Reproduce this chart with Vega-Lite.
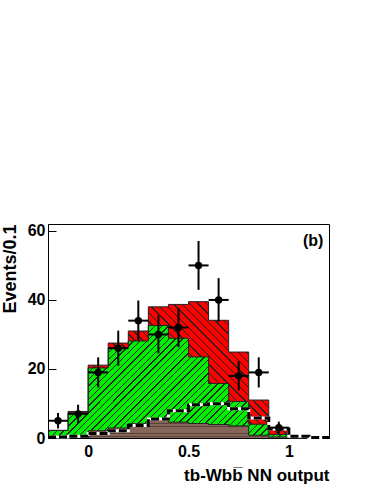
{
  "$schema": "https://vega.github.io/schema/vega-lite/v6.json",
  "autosize": {"type": "none"},
  "padding": {"left": 48, "top": 224, "right": 45, "bottom": 46},
  "width": 281,
  "height": 214,
  "background": "white",
  "config": {
    "view": {"stroke": "black", "strokeWidth": 1},
    "font": "Liberation Sans",
    "axis": {"labelFont": "Liberation Sans", "titleFont": "Liberation Sans", "labelFontWeight": "bold", "titleFontWeight": "bold", "labelColor": "black", "titleColor": "black", "domainColor": "black"}
  },
  "datasets": {
    "hist": [
      {"lo": -0.2, "hi": -0.1, "brown": 0.2, "green": 2.2, "total": 2.2, "signal": 0.3},
      {"lo": -0.1, "hi": 0.0, "brown": 0.5, "green": 7.3, "total": 7.7, "signal": 0.5},
      {"lo": 0.0, "hi": 0.1, "brown": 2.1, "green": 20.3, "total": 21.1, "signal": 1.3},
      {"lo": 0.1, "hi": 0.2, "brown": 2.9, "green": 26.1, "total": 27.5, "signal": 2.1},
      {"lo": 0.2, "hi": 0.3, "brown": 4.1, "green": 28.1, "total": 31.0, "signal": 3.6},
      {"lo": 0.3, "hi": 0.4, "brown": 5.3, "green": 32.6, "total": 38.0, "signal": 5.5},
      {"lo": 0.4, "hi": 0.5, "brown": 4.6, "green": 28.9, "total": 38.7, "signal": 7.9},
      {"lo": 0.5, "hi": 0.6, "brown": 4.2, "green": 23.5, "total": 39.5, "signal": 9.6},
      {"lo": 0.6, "hi": 0.7, "brown": 3.9, "green": 15.8, "total": 34.1, "signal": 9.9},
      {"lo": 0.7, "hi": 0.8, "brown": 3.5, "green": 10.6, "total": 24.9, "signal": 8.5},
      {"lo": 0.8, "hi": 0.9, "brown": 0.8, "green": 4.0, "total": 11.0, "signal": 5.8},
      {"lo": 0.9, "hi": 1.0, "brown": 0.3, "green": 1.0, "total": 3.0, "signal": 2.6},
      {"lo": 1.0, "hi": 1.1, "brown": 0, "green": 0, "total": 0, "signal": 0.5},
      {"lo": 1.1, "hi": 1.2, "brown": 0, "green": 0, "total": 0, "signal": 0.15},
      {"lo": 1.2, "hi": 1.2, "brown": 0, "green": 0, "total": 0, "signal": 0.15}
    ],
    "pts": [
      {"x": -0.15, "xlo": -0.2, "xhi": -0.1, "y": 5, "ylo": 2.76, "yhi": 7.24},
      {"x": -0.05, "xlo": -0.1, "xhi": 0.0, "y": 7, "ylo": 4.35, "yhi": 9.65},
      {"x": 0.05, "xlo": 0.0, "xhi": 0.1, "y": 19, "ylo": 14.64, "yhi": 23.36},
      {"x": 0.15, "xlo": 0.1, "xhi": 0.2, "y": 26, "ylo": 20.9, "yhi": 31.1},
      {"x": 0.25, "xlo": 0.2, "xhi": 0.3, "y": 34, "ylo": 28.17, "yhi": 39.83},
      {"x": 0.35, "xlo": 0.3, "xhi": 0.4, "y": 30, "ylo": 24.52, "yhi": 35.48},
      {"x": 0.45, "xlo": 0.4, "xhi": 0.5, "y": 32, "ylo": 26.34, "yhi": 37.66},
      {"x": 0.55, "xlo": 0.5, "xhi": 0.6, "y": 50, "ylo": 42.93, "yhi": 57.07},
      {"x": 0.65, "xlo": 0.6, "xhi": 0.7, "y": 40, "ylo": 33.68, "yhi": 46.32},
      {"x": 0.75, "xlo": 0.7, "xhi": 0.8, "y": 18, "ylo": 13.76, "yhi": 22.24},
      {"x": 0.85, "xlo": 0.8, "xhi": 0.9, "y": 19, "ylo": 14.64, "yhi": 23.36},
      {"x": 0.95, "xlo": 0.9, "xhi": 1.0, "y": 3, "ylo": 1.27, "yhi": 4.73}
    ],
    "label": [{"x": 1.172, "y": 57, "text": "(b)"}]
  },
  "layer": [
    {
      "data": {"name": "hist"},
      "mark": {"type": "area", "interpolate": "step-after", "fill": {"gradient": "linear", "x1": 0, "y1": 1, "x2": 1.202, "y2": 0.417, "stops": [
        {"offset": 0, "color": "#222"}, {"offset": 0.0035, "color": "#222"}, {"offset": 0.0035, "color": "#f00"}, {"offset": 0.02, "color": "#f00"},
        {"offset": 0.02, "color": "#222"}, {"offset": 0.0235, "color": "#222"}, {"offset": 0.0235, "color": "#f00"}, {"offset": 0.04, "color": "#f00"},
        {"offset": 0.04, "color": "#222"}, {"offset": 0.0435, "color": "#222"}, {"offset": 0.0435, "color": "#f00"}, {"offset": 0.06, "color": "#f00"},
        {"offset": 0.06, "color": "#222"}, {"offset": 0.0635, "color": "#222"}, {"offset": 0.0635, "color": "#f00"}, {"offset": 0.08, "color": "#f00"},
        {"offset": 0.08, "color": "#222"}, {"offset": 0.0835, "color": "#222"}, {"offset": 0.0835, "color": "#f00"}, {"offset": 0.1, "color": "#f00"},
        {"offset": 0.1, "color": "#222"}, {"offset": 0.1035, "color": "#222"}, {"offset": 0.1035, "color": "#f00"}, {"offset": 0.12, "color": "#f00"},
        {"offset": 0.12, "color": "#222"}, {"offset": 0.1235, "color": "#222"}, {"offset": 0.1235, "color": "#f00"}, {"offset": 0.14, "color": "#f00"},
        {"offset": 0.14, "color": "#222"}, {"offset": 0.1435, "color": "#222"}, {"offset": 0.1435, "color": "#f00"}, {"offset": 0.16, "color": "#f00"},
        {"offset": 0.16, "color": "#222"}, {"offset": 0.1635, "color": "#222"}, {"offset": 0.1635, "color": "#f00"}, {"offset": 0.18, "color": "#f00"},
        {"offset": 0.18, "color": "#222"}, {"offset": 0.1835, "color": "#222"}, {"offset": 0.1835, "color": "#f00"}, {"offset": 0.2, "color": "#f00"},
        {"offset": 0.2, "color": "#222"}, {"offset": 0.2035, "color": "#222"}, {"offset": 0.2035, "color": "#f00"}, {"offset": 0.22, "color": "#f00"},
        {"offset": 0.22, "color": "#222"}, {"offset": 0.2235, "color": "#222"}, {"offset": 0.2235, "color": "#f00"}, {"offset": 0.24, "color": "#f00"},
        {"offset": 0.24, "color": "#222"}, {"offset": 0.2435, "color": "#222"}, {"offset": 0.2435, "color": "#f00"}, {"offset": 0.26, "color": "#f00"},
        {"offset": 0.26, "color": "#222"}, {"offset": 0.2635, "color": "#222"}, {"offset": 0.2635, "color": "#f00"}, {"offset": 0.28, "color": "#f00"},
        {"offset": 0.28, "color": "#222"}, {"offset": 0.2835, "color": "#222"}, {"offset": 0.2835, "color": "#f00"}, {"offset": 0.3, "color": "#f00"},
        {"offset": 0.3, "color": "#222"}, {"offset": 0.3035, "color": "#222"}, {"offset": 0.3035, "color": "#f00"}, {"offset": 0.32, "color": "#f00"},
        {"offset": 0.32, "color": "#222"}, {"offset": 0.3235, "color": "#222"}, {"offset": 0.3235, "color": "#f00"}, {"offset": 0.34, "color": "#f00"},
        {"offset": 0.34, "color": "#222"}, {"offset": 0.3435, "color": "#222"}, {"offset": 0.3435, "color": "#f00"}, {"offset": 0.36, "color": "#f00"},
        {"offset": 0.36, "color": "#222"}, {"offset": 0.3635, "color": "#222"}, {"offset": 0.3635, "color": "#f00"}, {"offset": 0.38, "color": "#f00"},
        {"offset": 0.38, "color": "#222"}, {"offset": 0.3835, "color": "#222"}, {"offset": 0.3835, "color": "#f00"}, {"offset": 0.4, "color": "#f00"},
        {"offset": 0.4, "color": "#222"}, {"offset": 0.4035, "color": "#222"}, {"offset": 0.4035, "color": "#f00"}, {"offset": 0.42, "color": "#f00"},
        {"offset": 0.42, "color": "#222"}, {"offset": 0.4235, "color": "#222"}, {"offset": 0.4235, "color": "#f00"}, {"offset": 0.44, "color": "#f00"},
        {"offset": 0.44, "color": "#222"}, {"offset": 0.4435, "color": "#222"}, {"offset": 0.4435, "color": "#f00"}, {"offset": 0.46, "color": "#f00"},
        {"offset": 0.46, "color": "#222"}, {"offset": 0.4635, "color": "#222"}, {"offset": 0.4635, "color": "#f00"}, {"offset": 0.48, "color": "#f00"},
        {"offset": 0.48, "color": "#222"}, {"offset": 0.4835, "color": "#222"}, {"offset": 0.4835, "color": "#f00"}, {"offset": 0.5, "color": "#f00"},
        {"offset": 0.5, "color": "#222"}, {"offset": 0.5035, "color": "#222"}, {"offset": 0.5035, "color": "#f00"}, {"offset": 0.52, "color": "#f00"},
        {"offset": 0.52, "color": "#222"}, {"offset": 0.5235, "color": "#222"}, {"offset": 0.5235, "color": "#f00"}, {"offset": 0.54, "color": "#f00"},
        {"offset": 0.54, "color": "#222"}, {"offset": 0.5435, "color": "#222"}, {"offset": 0.5435, "color": "#f00"}, {"offset": 0.56, "color": "#f00"},
        {"offset": 0.56, "color": "#222"}, {"offset": 0.5635, "color": "#222"}, {"offset": 0.5635, "color": "#f00"}, {"offset": 0.58, "color": "#f00"},
        {"offset": 0.58, "color": "#222"}, {"offset": 0.5835, "color": "#222"}, {"offset": 0.5835, "color": "#f00"}, {"offset": 0.6, "color": "#f00"},
        {"offset": 0.6, "color": "#222"}, {"offset": 0.6035, "color": "#222"}, {"offset": 0.6035, "color": "#f00"}, {"offset": 0.62, "color": "#f00"},
        {"offset": 0.62, "color": "#222"}, {"offset": 0.6235, "color": "#222"}, {"offset": 0.6235, "color": "#f00"}, {"offset": 0.64, "color": "#f00"},
        {"offset": 0.64, "color": "#222"}, {"offset": 0.6435, "color": "#222"}, {"offset": 0.6435, "color": "#f00"}, {"offset": 0.66, "color": "#f00"},
        {"offset": 0.66, "color": "#222"}, {"offset": 0.6635, "color": "#222"}, {"offset": 0.6635, "color": "#f00"}, {"offset": 0.68, "color": "#f00"},
        {"offset": 0.68, "color": "#222"}, {"offset": 0.6835, "color": "#222"}, {"offset": 0.6835, "color": "#f00"}, {"offset": 0.7, "color": "#f00"},
        {"offset": 0.7, "color": "#222"}, {"offset": 0.7035, "color": "#222"}, {"offset": 0.7035, "color": "#f00"}, {"offset": 0.72, "color": "#f00"},
        {"offset": 0.72, "color": "#222"}, {"offset": 0.7235, "color": "#222"}, {"offset": 0.7235, "color": "#f00"}, {"offset": 0.74, "color": "#f00"},
        {"offset": 0.74, "color": "#222"}, {"offset": 0.7435, "color": "#222"}, {"offset": 0.7435, "color": "#f00"}, {"offset": 0.76, "color": "#f00"},
        {"offset": 0.76, "color": "#222"}, {"offset": 0.7635, "color": "#222"}, {"offset": 0.7635, "color": "#f00"}, {"offset": 0.78, "color": "#f00"},
        {"offset": 0.78, "color": "#222"}, {"offset": 0.7835, "color": "#222"}, {"offset": 0.7835, "color": "#f00"}, {"offset": 0.8, "color": "#f00"},
        {"offset": 0.8, "color": "#222"}, {"offset": 0.8035, "color": "#222"}, {"offset": 0.8035, "color": "#f00"}, {"offset": 0.82, "color": "#f00"},
        {"offset": 0.82, "color": "#222"}, {"offset": 0.8235, "color": "#222"}, {"offset": 0.8235, "color": "#f00"}, {"offset": 0.84, "color": "#f00"},
        {"offset": 0.84, "color": "#222"}, {"offset": 0.8435, "color": "#222"}, {"offset": 0.8435, "color": "#f00"}, {"offset": 0.86, "color": "#f00"},
        {"offset": 0.86, "color": "#222"}, {"offset": 0.8635, "color": "#222"}, {"offset": 0.8635, "color": "#f00"}, {"offset": 0.88, "color": "#f00"},
        {"offset": 0.88, "color": "#222"}, {"offset": 0.8835, "color": "#222"}, {"offset": 0.8835, "color": "#f00"}, {"offset": 0.9, "color": "#f00"},
        {"offset": 0.9, "color": "#222"}, {"offset": 0.9035, "color": "#222"}, {"offset": 0.9035, "color": "#f00"}, {"offset": 0.92, "color": "#f00"},
        {"offset": 0.92, "color": "#222"}, {"offset": 0.9235, "color": "#222"}, {"offset": 0.9235, "color": "#f00"}, {"offset": 0.94, "color": "#f00"},
        {"offset": 0.94, "color": "#222"}, {"offset": 0.9435, "color": "#222"}, {"offset": 0.9435, "color": "#f00"}, {"offset": 0.96, "color": "#f00"},
        {"offset": 0.96, "color": "#222"}, {"offset": 0.9635, "color": "#222"}, {"offset": 0.9635, "color": "#f00"}, {"offset": 0.98, "color": "#f00"},
        {"offset": 0.98, "color": "#222"}, {"offset": 0.9835, "color": "#222"}, {"offset": 0.9835, "color": "#f00"}, {"offset": 1, "color": "#f00"}
      ]}},
      "encoding": {
        "x": {"field": "lo", "type": "quantitative", "scale": {"domain": [-0.2, 1.2], "nice": false, "zero": false},
          "axis": {"values": [0, 0.5, 1], "labelExpr": "toString(datum.value)", "ticks": false, "grid": false, "labelFontSize": 16, "labelPadding": 5, "title": "tb-Wbb\u0305 NN output", "titleFontSize": 17, "titleAnchor": "end", "titlePadding": 8, "labelFlush": false}},
        "y": {"field": "total", "type": "quantitative", "scale": {"domain": [0, 62], "nice": false},
          "axis": {"values": [0, 5, 10, 15, 20, 25, 30, 35, 40, 45, 50, 55, 60], "labelExpr": "datum.value % 20 === 0 ? datum.label : ''", "labelOverlap": false, "labelFlush": false, "ticks": false, "labelFontSize": 16, "labelPadding": 3, "grid": true, "gridColor": "black", "gridOpacity": 1, "gridWidth": 1, "gridDash": {"condition": {"test": "datum.value % 20 === 0", "value": [8, 1000]}, "value": [4, 1000]}, "zindex": 1, "title": "Events/0.1", "titleFontSize": 18, "titleAnchor": "end", "titlePadding": 8}},
        "y2": {"datum": 0}
      }
    },
    {
      "data": {"name": "hist"},
      "mark": {"type": "area", "interpolate": "step-after", "fill": {"gradient": "linear", "x1": 0, "y1": 0, "x2": 1.207, "y2": 0.483, "stops": [
        {"offset": 0, "color": "#222"}, {"offset": 0.0035, "color": "#222"}, {"offset": 0.0035, "color": "#0e0"}, {"offset": 0.017, "color": "#0e0"},
        {"offset": 0.017, "color": "#222"}, {"offset": 0.0205, "color": "#222"}, {"offset": 0.0205, "color": "#0e0"}, {"offset": 0.034, "color": "#0e0"},
        {"offset": 0.034, "color": "#222"}, {"offset": 0.0375, "color": "#222"}, {"offset": 0.0375, "color": "#0e0"}, {"offset": 0.051, "color": "#0e0"},
        {"offset": 0.051, "color": "#222"}, {"offset": 0.0545, "color": "#222"}, {"offset": 0.0545, "color": "#0e0"}, {"offset": 0.068, "color": "#0e0"},
        {"offset": 0.068, "color": "#222"}, {"offset": 0.0715, "color": "#222"}, {"offset": 0.0715, "color": "#0e0"}, {"offset": 0.085, "color": "#0e0"},
        {"offset": 0.085, "color": "#222"}, {"offset": 0.0885, "color": "#222"}, {"offset": 0.0885, "color": "#0e0"}, {"offset": 0.102, "color": "#0e0"},
        {"offset": 0.102, "color": "#222"}, {"offset": 0.1055, "color": "#222"}, {"offset": 0.1055, "color": "#0e0"}, {"offset": 0.119, "color": "#0e0"},
        {"offset": 0.119, "color": "#222"}, {"offset": 0.1225, "color": "#222"}, {"offset": 0.1225, "color": "#0e0"}, {"offset": 0.136, "color": "#0e0"},
        {"offset": 0.136, "color": "#222"}, {"offset": 0.1395, "color": "#222"}, {"offset": 0.1395, "color": "#0e0"}, {"offset": 0.153, "color": "#0e0"},
        {"offset": 0.153, "color": "#222"}, {"offset": 0.1565, "color": "#222"}, {"offset": 0.1565, "color": "#0e0"}, {"offset": 0.17, "color": "#0e0"},
        {"offset": 0.17, "color": "#222"}, {"offset": 0.1735, "color": "#222"}, {"offset": 0.1735, "color": "#0e0"}, {"offset": 0.187, "color": "#0e0"},
        {"offset": 0.187, "color": "#222"}, {"offset": 0.1905, "color": "#222"}, {"offset": 0.1905, "color": "#0e0"}, {"offset": 0.204, "color": "#0e0"},
        {"offset": 0.204, "color": "#222"}, {"offset": 0.2075, "color": "#222"}, {"offset": 0.2075, "color": "#0e0"}, {"offset": 0.221, "color": "#0e0"},
        {"offset": 0.221, "color": "#222"}, {"offset": 0.2245, "color": "#222"}, {"offset": 0.2245, "color": "#0e0"}, {"offset": 0.238, "color": "#0e0"},
        {"offset": 0.238, "color": "#222"}, {"offset": 0.2415, "color": "#222"}, {"offset": 0.2415, "color": "#0e0"}, {"offset": 0.255, "color": "#0e0"},
        {"offset": 0.255, "color": "#222"}, {"offset": 0.2585, "color": "#222"}, {"offset": 0.2585, "color": "#0e0"}, {"offset": 0.272, "color": "#0e0"},
        {"offset": 0.272, "color": "#222"}, {"offset": 0.2755, "color": "#222"}, {"offset": 0.2755, "color": "#0e0"}, {"offset": 0.289, "color": "#0e0"},
        {"offset": 0.289, "color": "#222"}, {"offset": 0.2925, "color": "#222"}, {"offset": 0.2925, "color": "#0e0"}, {"offset": 0.306, "color": "#0e0"},
        {"offset": 0.306, "color": "#222"}, {"offset": 0.3095, "color": "#222"}, {"offset": 0.3095, "color": "#0e0"}, {"offset": 0.323, "color": "#0e0"},
        {"offset": 0.323, "color": "#222"}, {"offset": 0.3265, "color": "#222"}, {"offset": 0.3265, "color": "#0e0"}, {"offset": 0.34, "color": "#0e0"},
        {"offset": 0.34, "color": "#222"}, {"offset": 0.3435, "color": "#222"}, {"offset": 0.3435, "color": "#0e0"}, {"offset": 0.357, "color": "#0e0"},
        {"offset": 0.357, "color": "#222"}, {"offset": 0.3605, "color": "#222"}, {"offset": 0.3605, "color": "#0e0"}, {"offset": 0.374, "color": "#0e0"},
        {"offset": 0.374, "color": "#222"}, {"offset": 0.3775, "color": "#222"}, {"offset": 0.3775, "color": "#0e0"}, {"offset": 0.391, "color": "#0e0"},
        {"offset": 0.391, "color": "#222"}, {"offset": 0.3945, "color": "#222"}, {"offset": 0.3945, "color": "#0e0"}, {"offset": 0.408, "color": "#0e0"},
        {"offset": 0.408, "color": "#222"}, {"offset": 0.4115, "color": "#222"}, {"offset": 0.4115, "color": "#0e0"}, {"offset": 0.425, "color": "#0e0"},
        {"offset": 0.425, "color": "#222"}, {"offset": 0.4285, "color": "#222"}, {"offset": 0.4285, "color": "#0e0"}, {"offset": 0.442, "color": "#0e0"},
        {"offset": 0.442, "color": "#222"}, {"offset": 0.4455, "color": "#222"}, {"offset": 0.4455, "color": "#0e0"}, {"offset": 0.459, "color": "#0e0"},
        {"offset": 0.459, "color": "#222"}, {"offset": 0.4625, "color": "#222"}, {"offset": 0.4625, "color": "#0e0"}, {"offset": 0.476, "color": "#0e0"},
        {"offset": 0.476, "color": "#222"}, {"offset": 0.4795, "color": "#222"}, {"offset": 0.4795, "color": "#0e0"}, {"offset": 0.493, "color": "#0e0"},
        {"offset": 0.493, "color": "#222"}, {"offset": 0.4965, "color": "#222"}, {"offset": 0.4965, "color": "#0e0"}, {"offset": 0.51, "color": "#0e0"},
        {"offset": 0.51, "color": "#222"}, {"offset": 0.5135, "color": "#222"}, {"offset": 0.5135, "color": "#0e0"}, {"offset": 0.527, "color": "#0e0"},
        {"offset": 0.527, "color": "#222"}, {"offset": 0.5305, "color": "#222"}, {"offset": 0.5305, "color": "#0e0"}, {"offset": 0.544, "color": "#0e0"},
        {"offset": 0.544, "color": "#222"}, {"offset": 0.5475, "color": "#222"}, {"offset": 0.5475, "color": "#0e0"}, {"offset": 0.561, "color": "#0e0"},
        {"offset": 0.561, "color": "#222"}, {"offset": 0.5645, "color": "#222"}, {"offset": 0.5645, "color": "#0e0"}, {"offset": 0.578, "color": "#0e0"},
        {"offset": 0.578, "color": "#222"}, {"offset": 0.5815, "color": "#222"}, {"offset": 0.5815, "color": "#0e0"}, {"offset": 0.595, "color": "#0e0"},
        {"offset": 0.595, "color": "#222"}, {"offset": 0.5985, "color": "#222"}, {"offset": 0.5985, "color": "#0e0"}, {"offset": 0.612, "color": "#0e0"},
        {"offset": 0.612, "color": "#222"}, {"offset": 0.6155, "color": "#222"}, {"offset": 0.6155, "color": "#0e0"}, {"offset": 0.629, "color": "#0e0"},
        {"offset": 0.629, "color": "#222"}, {"offset": 0.6325, "color": "#222"}, {"offset": 0.6325, "color": "#0e0"}, {"offset": 0.646, "color": "#0e0"},
        {"offset": 0.646, "color": "#222"}, {"offset": 0.6495, "color": "#222"}, {"offset": 0.6495, "color": "#0e0"}, {"offset": 0.663, "color": "#0e0"},
        {"offset": 0.663, "color": "#222"}, {"offset": 0.6665, "color": "#222"}, {"offset": 0.6665, "color": "#0e0"}, {"offset": 0.68, "color": "#0e0"},
        {"offset": 0.68, "color": "#222"}, {"offset": 0.6835, "color": "#222"}, {"offset": 0.6835, "color": "#0e0"}, {"offset": 0.697, "color": "#0e0"},
        {"offset": 0.697, "color": "#222"}, {"offset": 0.7005, "color": "#222"}, {"offset": 0.7005, "color": "#0e0"}, {"offset": 0.714, "color": "#0e0"},
        {"offset": 0.714, "color": "#222"}, {"offset": 0.7175, "color": "#222"}, {"offset": 0.7175, "color": "#0e0"}, {"offset": 0.731, "color": "#0e0"},
        {"offset": 0.731, "color": "#222"}, {"offset": 0.7345, "color": "#222"}, {"offset": 0.7345, "color": "#0e0"}, {"offset": 0.748, "color": "#0e0"},
        {"offset": 0.748, "color": "#222"}, {"offset": 0.7515, "color": "#222"}, {"offset": 0.7515, "color": "#0e0"}, {"offset": 0.765, "color": "#0e0"},
        {"offset": 0.765, "color": "#222"}, {"offset": 0.7685, "color": "#222"}, {"offset": 0.7685, "color": "#0e0"}, {"offset": 0.782, "color": "#0e0"},
        {"offset": 0.782, "color": "#222"}, {"offset": 0.7855, "color": "#222"}, {"offset": 0.7855, "color": "#0e0"}, {"offset": 0.799, "color": "#0e0"},
        {"offset": 0.799, "color": "#222"}, {"offset": 0.8025, "color": "#222"}, {"offset": 0.8025, "color": "#0e0"}, {"offset": 0.816, "color": "#0e0"},
        {"offset": 0.816, "color": "#222"}, {"offset": 0.8195, "color": "#222"}, {"offset": 0.8195, "color": "#0e0"}, {"offset": 0.833, "color": "#0e0"},
        {"offset": 0.833, "color": "#222"}, {"offset": 0.8365, "color": "#222"}, {"offset": 0.8365, "color": "#0e0"}, {"offset": 0.85, "color": "#0e0"},
        {"offset": 0.85, "color": "#222"}, {"offset": 0.8535, "color": "#222"}, {"offset": 0.8535, "color": "#0e0"}, {"offset": 0.867, "color": "#0e0"},
        {"offset": 0.867, "color": "#222"}, {"offset": 0.8705, "color": "#222"}, {"offset": 0.8705, "color": "#0e0"}, {"offset": 0.884, "color": "#0e0"},
        {"offset": 0.884, "color": "#222"}, {"offset": 0.8875, "color": "#222"}, {"offset": 0.8875, "color": "#0e0"}, {"offset": 0.901, "color": "#0e0"},
        {"offset": 0.901, "color": "#222"}, {"offset": 0.9045, "color": "#222"}, {"offset": 0.9045, "color": "#0e0"}, {"offset": 0.918, "color": "#0e0"},
        {"offset": 0.918, "color": "#222"}, {"offset": 0.9215, "color": "#222"}, {"offset": 0.9215, "color": "#0e0"}, {"offset": 0.935, "color": "#0e0"},
        {"offset": 0.935, "color": "#222"}, {"offset": 0.9385, "color": "#222"}, {"offset": 0.9385, "color": "#0e0"}, {"offset": 0.952, "color": "#0e0"},
        {"offset": 0.952, "color": "#222"}, {"offset": 0.9555, "color": "#222"}, {"offset": 0.9555, "color": "#0e0"}, {"offset": 0.969, "color": "#0e0"},
        {"offset": 0.969, "color": "#222"}, {"offset": 0.9725, "color": "#222"}, {"offset": 0.9725, "color": "#0e0"}, {"offset": 0.986, "color": "#0e0"},
        {"offset": 0.986, "color": "#222"}, {"offset": 0.9895, "color": "#222"}, {"offset": 0.9895, "color": "#0e0"}, {"offset": 1, "color": "#0e0"}
      ]}},
      "encoding": {
        "x": {"field": "lo", "type": "quantitative"},
        "y": {"field": "green", "type": "quantitative"},
        "y2": {"datum": 0}
      }
    },
    {
      "data": {"name": "hist"},
      "mark": {"type": "area", "interpolate": "step-after", "fill": {"gradient": "linear", "x1": 0, "y1": 0, "x2": 0, "y2": 1, "stops": [
        {"offset": 0, "color": "#5b4238"}, {"offset": 0.05, "color": "#5b4238"}, {"offset": 0.05, "color": "#86665a"}, {"offset": 0.18, "color": "#86665a"},
        {"offset": 0.18, "color": "#5b4238"}, {"offset": 0.23, "color": "#5b4238"}, {"offset": 0.23, "color": "#86665a"}, {"offset": 0.36, "color": "#86665a"},
        {"offset": 0.36, "color": "#5b4238"}, {"offset": 0.41, "color": "#5b4238"}, {"offset": 0.41, "color": "#86665a"}, {"offset": 0.54, "color": "#86665a"},
        {"offset": 0.54, "color": "#5b4238"}, {"offset": 0.59, "color": "#5b4238"}, {"offset": 0.59, "color": "#86665a"}, {"offset": 0.72, "color": "#86665a"},
        {"offset": 0.72, "color": "#5b4238"}, {"offset": 0.77, "color": "#5b4238"}, {"offset": 0.77, "color": "#86665a"}, {"offset": 0.9, "color": "#86665a"},
        {"offset": 0.9, "color": "#5b4238"}, {"offset": 0.95, "color": "#5b4238"}, {"offset": 0.95, "color": "#86665a"}, {"offset": 1, "color": "#86665a"}
      ]}},
      "encoding": {
        "x": {"field": "lo", "type": "quantitative"},
        "y": {"field": "brown", "type": "quantitative"},
        "y2": {"datum": 0}
      }
    },
    {
      "data": {"name": "hist"},
      "mark": {"type": "line", "interpolate": "step-after", "color": "#222222", "strokeWidth": 1},
      "encoding": {
        "x": {"field": "lo", "type": "quantitative"},
        "y": {"field": "total", "type": "quantitative"}
      }
    },
    {
      "data": {"name": "hist"},
      "mark": {"type": "line", "interpolate": "step-after", "color": "#222222", "strokeWidth": 1},
      "encoding": {
        "x": {"field": "lo", "type": "quantitative"},
        "y": {"field": "green", "type": "quantitative"}
      }
    },
    {
      "data": {"name": "hist"},
      "mark": {"type": "line", "interpolate": "step-after", "color": "#222222", "strokeWidth": 1},
      "encoding": {
        "x": {"field": "lo", "type": "quantitative"},
        "y": {"field": "brown", "type": "quantitative"}
      }
    },
    {
      "data": {"name": "hist"},
      "mark": {"type": "line", "interpolate": "step-after", "color": "white", "strokeWidth": 3},
      "encoding": {
        "x": {"field": "lo", "type": "quantitative"},
        "y": {"field": "signal", "type": "quantitative"}
      }
    },
    {
      "data": {"name": "hist"},
      "mark": {"type": "line", "interpolate": "step-after", "color": "black", "strokeWidth": 3, "strokeDash": [8, 3]},
      "encoding": {
        "x": {"field": "lo", "type": "quantitative"},
        "y": {"field": "signal", "type": "quantitative"}
      }
    },
    {
      "data": {"name": "pts"},
      "mark": {"type": "rule", "color": "black", "strokeWidth": 2},
      "encoding": {
        "x": {"field": "xlo", "type": "quantitative"},
        "x2": {"field": "xhi"},
        "y": {"field": "y", "type": "quantitative"}
      }
    },
    {
      "data": {"name": "pts"},
      "mark": {"type": "rule", "color": "black", "strokeWidth": 2},
      "encoding": {
        "x": {"field": "x", "type": "quantitative"},
        "y": {"field": "ylo", "type": "quantitative"},
        "y2": {"field": "yhi"}
      }
    },
    {
      "data": {"name": "pts"},
      "mark": {"type": "circle", "color": "black", "opacity": 1, "size": 55},
      "encoding": {
        "x": {"field": "x", "type": "quantitative"},
        "y": {"field": "y", "type": "quantitative"}
      }
    },
    {
      "data": {"name": "label"},
      "mark": {"type": "text", "align": "right", "baseline": "middle", "fontSize": 16, "fontWeight": "bold", "font": "Liberation Sans", "color": "black"},
      "encoding": {
        "x": {"field": "x", "type": "quantitative"},
        "y": {"field": "y", "type": "quantitative"},
        "text": {"field": "text"}
      }
    }
  ]
}
